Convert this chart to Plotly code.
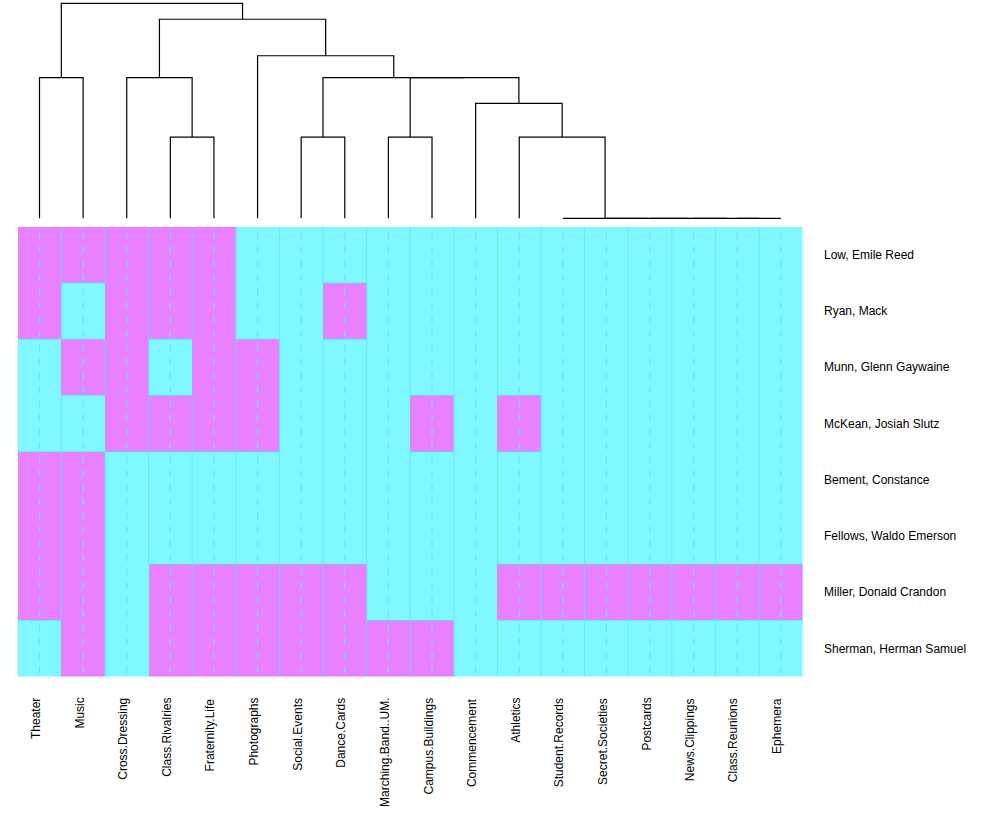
import math
import plotly.graph_objects as go

# ---------------- data ----------------
columns = ["Theater", "Music", "Cross.Dressing", "Class.Rivalries", "Fraternity.Life",
           "Photographs", "Social.Events", "Dance.Cards", "Marching.Band..UM.",
           "Campus.Buildings", "Commencement", "Athletics", "Student.Records",
           "Secret.Societies", "Postcards", "News.Clippings", "Class.Reunions", "Ephemera"]

rows = ["Low, Emile Reed", "Ryan, Mack", "Munn, Glenn Gaywaine", "McKean, Josiah Slutz",
        "Bement, Constance", "Fellows, Waldo Emerson", "Miller, Donald Crandon",
        "Sherman, Herman Samuel"]

low     = [1, 1, 1, 1, 1, 0, 0, 0, 0, 0, 0, 0, 0, 0, 0, 0, 0, 0]
ryan    = [1, 0, 1, 1, 1, 0, 0, 1, 0, 0, 0, 0, 0, 0, 0, 0, 0, 0]
munn    = [0, 1, 1, 0, 1, 1, 0, 0, 0, 0, 0, 0, 0, 0, 0, 0, 0, 0]
mckean  = [0, 0, 1, 1, 1, 1, 0, 0, 0, 1, 0, 1, 0, 0, 0, 0, 0, 0]
bement  = [1, 1, 0, 0, 0, 0, 0, 0, 0, 0, 0, 0, 0, 0, 0, 0, 0, 0]
fellows = [1, 1, 0, 0, 0, 0, 0, 0, 0, 0, 0, 0, 0, 0, 0, 0, 0, 0]
miller  = [1, 1, 0, 1, 1, 1, 1, 1, 0, 0, 0, 1, 1, 1, 1, 1, 1, 1]
sherman = [0, 1, 0, 1, 1, 1, 1, 1, 1, 1, 0, 0, 0, 0, 0, 0, 0, 0]

# column dendrogram (hclust style: negative = leaf position, positive = earlier merge)
merges = [(-17, -18), (-16, 1), (-15, 2), (-14, 3), (-13, 4), (-12, 5),
          (-4, -5), (-7, -8), (-9, -10), (-11, 6), (-1, -2), (-3, 7),
          (9, 10), (8, 13), (-6, 14), (12, 15), (11, 16)]
merge_heights = [0, 0, 0, 0, 0, 1,
                 1, 1, 1, math.sqrt(2), math.sqrt(3), math.sqrt(3),
                 math.sqrt(3), math.sqrt(3), 2, math.sqrt(6), math.sqrt(7)]

# ---------------- style ----------------
W, H = 981, 820
C_LOW = "#80F8FF"
C_HIGH = "#E880FF"
TRACE = "rgba(90,225,255,0.75)"
DASH = "#72DCFF"
FONT = "Liberation Sans, Arial, Helvetica, sans-serif"

hm_left, hm_right, hm_top, hm_bottom = 17.7, 802.7, 226.7, 676.7
dg_top_px, dg_bottom_px = 0.0, 222.0
unit_px = 81.27
dg_zero_px = 218.3

z = [low, ryan, munn, mckean, bement, fellows, miller, sherman]
ncol, nrow = len(columns), len(rows)
xs = list(range(1, ncol + 1))
ys = list(range(1, nrow + 1))

fig = go.Figure()

fig.add_trace(go.Heatmap(
    z=z, x=xs, y=ys, zmin=0, zmax=1,
    colorscale=[[0, C_LOW], [0.5, C_LOW], [0.5, C_HIGH], [1, C_HIGH]],
    showscale=False, hoverinfo="skip", xgap=0, ygap=0,
    xaxis="x", yaxis="y"))

# dashed centre lines
dx, dy = [], []
for i in xs:
    dx += [i, i, None]
    dy += [0.6, nrow + 0.5, None]
fig.add_trace(go.Scatter(x=dx, y=dy, mode="lines", xaxis="x", yaxis="y",
                         line=dict(color=DASH, width=1.3, dash="7px,7px"),
                         hoverinfo="skip", showlegend=False))

# column trace step lines
tx, ty = [], []
for ci, i in enumerate(xs):
    for r in range(nrow):
        xv = i - 0.5 + z[r][ci]
        tx += [xv, xv]
        ty += [r + 0.5, r + 1.5]
    tx.append(None)
    ty.append(None)
fig.add_trace(go.Scatter(x=tx, y=ty, mode="lines", xaxis="x", yaxis="y",
                         line=dict(color=TRACE, width=1),
                         hoverinfo="skip", showlegend=False))

# dendrogram
node_x, node_h = {}, {}
def pos(c):
    if c < 0:
        return float(-c), 0.0
    return node_x[c], node_h[c]

gx, gy = [], []
for k, (a, b) in enumerate(merges, start=1):
    xa, ha = pos(a)
    xb, hb = pos(b)
    h = merge_heights[k - 1]
    gx += [xa, xa, xb, xb, None]
    gy += [ha, h, h, hb, None]
    node_x[k] = (xa + xb) / 2
    node_h[k] = h
fig.add_trace(go.Scatter(x=gx, y=gy, mode="lines", xaxis="x", yaxis="y2",
                         line=dict(color="black", width=1.2),
                         hoverinfo="skip", showlegend=False))

# labels
ann = []
for r, name in enumerate(rows):
    ann.append(dict(text=name, x=823 / W, xref="paper", y=r + 1, yref="y",
                    xanchor="left", yanchor="middle", showarrow=False,
                    font=dict(family=FONT, size=12, color="black"), borderpad=0))
for ci, name in enumerate(columns):
    ann.append(dict(text=name, x=xs[ci], xref="x", y=1 - 697.0 / H, yref="paper",
                    xanchor="center", yanchor="top", textangle=-90, showarrow=False,
                    xshift=-4,
                    font=dict(family=FONT, size=12, color="black"), borderpad=0))

dg_range_top = (dg_zero_px - dg_top_px) / unit_px
dg_range_bot = -(dg_bottom_px - dg_zero_px) / unit_px

fig.update_layout(
    width=W, height=H, margin=dict(l=0, r=0, t=0, b=0),
    paper_bgcolor="white", plot_bgcolor="rgba(0,0,0,0)",
    showlegend=False, annotations=ann,
    xaxis=dict(domain=[hm_left / W, hm_right / W], range=[0.5, ncol + 0.5],
               visible=False, fixedrange=True),
    yaxis=dict(domain=[1 - hm_bottom / H, 1 - hm_top / H], range=[nrow + 0.5, 0.5],
               visible=False, fixedrange=True),
    yaxis2=dict(domain=[1 - dg_bottom_px / H, 1 - dg_top_px / H],
                range=[dg_range_bot, dg_range_top], visible=False, fixedrange=True,
                anchor="x"),
)

fig.write_html("out.html")
